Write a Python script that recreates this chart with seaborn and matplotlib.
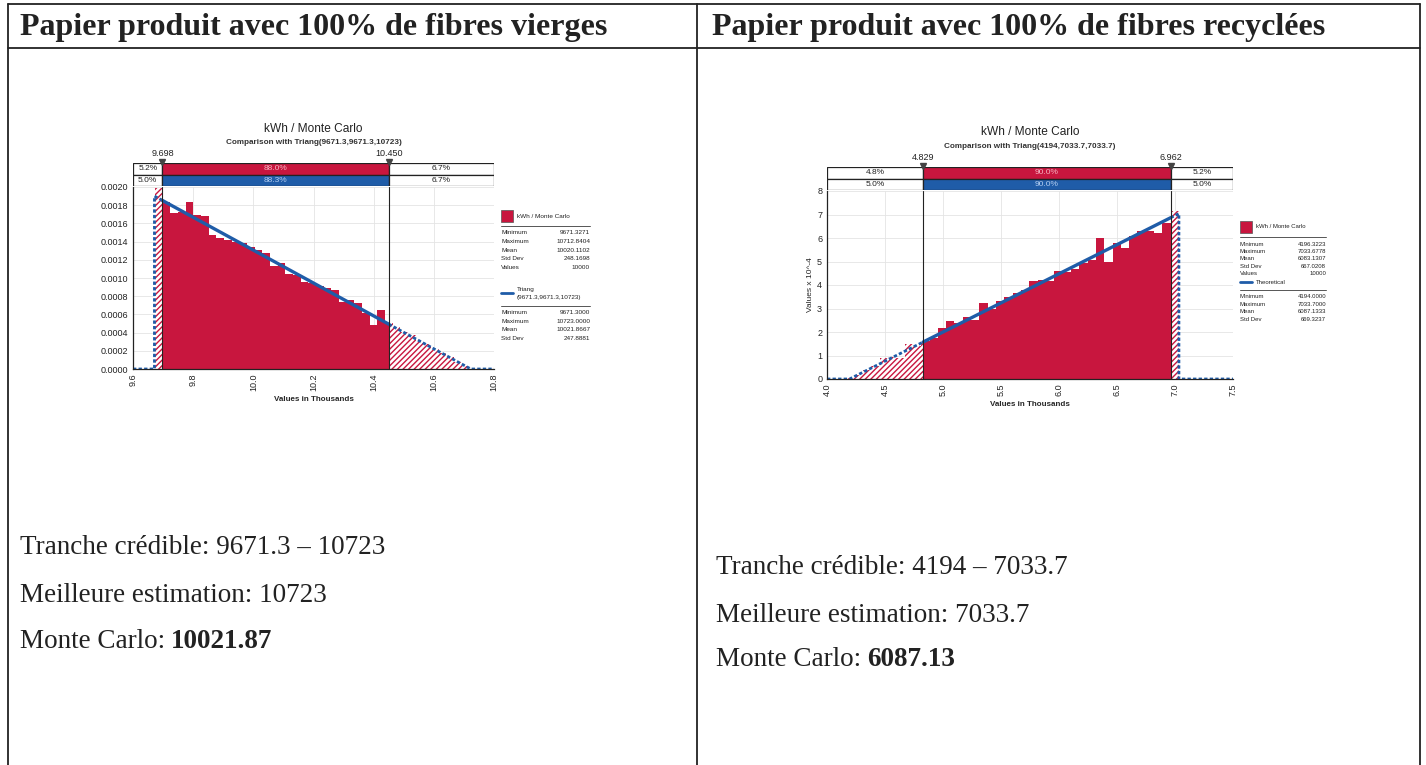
import numpy as np
import pandas as pd
import matplotlib
matplotlib.use("Agg")
import matplotlib.pyplot as plt
import seaborn as sns
from matplotlib.patches import Rectangle
from matplotlib.lines import Line2D

# ---------------- data ----------------
headers = ["Papier produit avec 100% de fibres vierges",
           "Papier produit avec 100% de fibres recyclées"]

# virgin fibres (values in thousands of kWh)
vir_edge0, vir_binw = 9.673, 0.0255
vir_density = [0.00199, 0.00183, 0.00171, 0.00173, 0.00184, 0.00169, 0.00168, 0.00147,
               0.00144, 0.00142, 0.00140, 0.00138, 0.00134, 0.00131, 0.00127, 0.00113,
               0.00116, 0.00104, 0.00103, 0.00096, 0.00094, 0.00091, 0.00089, 0.00087,
               0.00074, 0.00076, 0.00073, 0.00062, 0.00048, 0.00065, 0.00051, 0.00046,
               0.00041, 0.00037, 0.00031, 0.00027, 0.00022, 0.00018, 0.00013, 0.00008,
               0.00003]
vir_tri_x = [9.6, 9.6713, 9.6713, 10.723, 10.8]
vir_tri_y = [0, 0, 0.00190, 0, 0]
vir_delims = [9.698, 10.450]
vir_sim_pct = [5.2, 88.0, 6.7]
vir_th_pct = [5.0, 88.3, 6.7]
vir_xticks = [9.6, 9.8, 10.0, 10.2, 10.4, 10.6, 10.8]
vir_yticks = [0.0000, 0.0002, 0.0004, 0.0006, 0.0008, 0.0010, 0.0012, 0.0014, 0.0016, 0.0018, 0.0020]
vir_stats_sim = [("Minimum", "9671.3271"), ("Maximum", "10712.8404"), ("Mean", "10020.1102"),
                 ("Std Dev", "248.1698"), ("Values", "10000")]
vir_stats_th = [("Minimum", "9671.3000"), ("Maximum", "10723.0000"), ("Mean", "10021.8667"),
                ("Std Dev", "247.8881")]
vir_lines = ["Tranche crédible: 9671.3 – 10723", "Meilleure estimation: 10723"]
vir_mc = "10021.87"

# recycled fibres (values in thousands of kWh, density x 10^-4)
rec_edge0, rec_binw = 4.167, 0.0717
rec_density = [0.05, 0.18, 0.38, 0.55, 0.88, 0.92, 0.90, 1.48, 1.42, 1.60,
               1.75, 2.17, 2.46, 2.39, 2.64, 2.53, 3.24, 2.96, 3.30, 3.50,
               3.65, 3.80, 4.15, 4.20, 4.18, 4.60, 4.55, 4.70, 4.92, 5.05,
               6.00, 5.00, 5.78, 5.58, 6.10, 6.30, 6.28, 6.20, 6.65, 7.17]
rec_tri_x = [4.0, 4.194, 7.0337, 7.0337, 7.5]
rec_tri_y = [0, 0, 7.04, 0, 0]
rec_delims = [4.829, 6.962]
rec_sim_pct = [4.8, 90.0, 5.2]
rec_th_pct = [5.0, 90.0, 5.0]
rec_xticks = [4.0, 4.5, 5.0, 5.5, 6.0, 6.5, 7.0, 7.5]
rec_yticks = [0, 1, 2, 3, 4, 5, 6, 7, 8]
rec_stats_sim = [("Minimum", "4196.3223"), ("Maximum", "7033.6778"), ("Mean", "6083.1307"),
                 ("Std Dev", "667.0208"), ("Values", "10000")]
rec_stats_th = [("Minimum", "4194.0000"), ("Maximum", "7033.7000"), ("Mean", "6087.1333"),
                ("Std Dev", "669.3237")]
rec_lines = ["Tranche crédible: 4194 – 7033.7", "Meilleure estimation: 7033.7"]
rec_mc = "6087.13"

# ---------------- style ----------------
RED = "#c8163e"
BLUE = "#1f5ca8"
INK = "#222222"
sns.set_style("white")
plt.rcParams['font.family'] = ['Liberation Sans', 'DejaVu Sans']
plt.rcParams['hatch.linewidth'] = 1.0

W, H = 1426, 765
fig = plt.figure(figsize=(W / 100, H / 100), dpi=100)


def fx(px):
    return px / W


def fy(py):
    return 1 - py / H


def axes_px(x0, y0, x1, y1):
    return fig.add_axes([fx(x0), fy(y1), (x1 - x0) / W, (y1 - y0) / H])


# ---------------- table frame ----------------
tbl = dict(color=INK, lw=1.3)
fig.add_artist(Line2D([fx(8), fx(1420)], [fy(4), fy(4)], **tbl))
fig.add_artist(Line2D([fx(8), fx(1420)], [fy(48), fy(48)], **tbl))
for xx in (8, 697, 1420):
    fig.add_artist(Line2D([fx(xx), fx(xx)], [fy(4), fy(765)], **tbl))

fig.text(fx(20), fy(27), headers[0], fontfamily='Liberation Serif', fontweight='bold',
         fontsize=23, va='center', color=INK)
fig.text(fx(712), fy(27), headers[1], fontfamily='Liberation Serif', fontweight='bold',
         fontsize=23, va='center', color=INK)


def hist_bars(ax, dens, edges):
    edges = np.asarray(edges, dtype=float)
    df = pd.DataFrame({"value": (edges[:-1] + edges[1:]) / 2, "density": list(dens)})
    n0 = len(ax.patches)
    sns.histplot(data=df, x="value", weights="density", bins=list(edges), stat='count',
                 element='bars', color=RED, alpha=1, linewidth=0, ax=ax)
    return ax.patches[n0:]


def draw_chart(edge0, binw, dens, tri_x, tri_y, delims, sim_pct, th_pct, xticks, yticks,
               ytickfmt, ylabel, plot_px, box_px, title_y, sub_y, subtitle):
    x0, y0, x1, y1 = plot_px
    xmin, xmax = xticks[0], xticks[-1]
    ymax = yticks[-1]
    lo, hi = delims
    ax = axes_px(x0, y0, x1, y1)
    edges = edge0 + binw * np.arange(len(dens) + 1)

    # solid histogram inside delimiters
    clip_in = Rectangle((lo, 0), hi - lo, ymax * 2, transform=ax.transData)
    for p in hist_bars(ax, dens, edges):
        p.set_clip_path(clip_in)
    # hatched histogram outside delimiters
    for (a, b) in [(xmin, lo), (hi, xmax)]:
        clip = Rectangle((a, 0), b - a, ymax * 2, transform=ax.transData)
        for p in hist_bars(ax, dens, edges):
            p.set_facecolor('white')
            p.set_edgecolor(RED)
            p.set_hatch('//////')
            p.set_linewidth(0)
            p.set_alpha(1)
            p.set_clip_path(clip)

    # theoretical curve
    tx = np.array(tri_x, dtype=float)
    ty = np.array(tri_y, dtype=float)
    m_in = (tx > lo) & (tx < hi)
    xin = np.concatenate([[lo], tx[m_in], [hi]])
    yin = np.interp(xin, tx, ty)
    sns.lineplot(x=xin, y=yin, ax=ax, color=BLUE, linewidth=2.4, estimator=None, sort=False)
    xl = np.concatenate([tx[tx < lo], [lo]])
    yl = np.concatenate([ty[tx < lo], [np.interp(lo, tx, ty)]])
    xr = np.concatenate([[hi], tx[tx > hi]])
    yr = np.concatenate([[np.interp(hi, tx, ty)], ty[tx > hi]])
    for xs, ys in [(xl, yl), (xr, yr)]:
        sns.lineplot(x=xs, y=ys, ax=ax, color=BLUE, linewidth=2.0, estimator=None,
                     sort=False, linestyle=(0, (1.2, 0.8)))

    for d in delims:
        ax.axvline(d, color=INK, lw=0.8, zorder=5)

    ax.set_xlim(xmin, xmax)
    ax.set_ylim(0, ymax)
    ax.set_xticks(xticks)
    ax.set_xticklabels([f"{t:.1f}" for t in xticks], rotation=90, fontsize=6.5)
    ax.set_yticks(yticks)
    ax.set_yticklabels([ytickfmt.format(t) for t in yticks], fontsize=6.5)
    ax.grid(True, color='#e4e4e4', lw=0.6)
    ax.set_axisbelow(True)
    for s in ('top', 'right'):
        ax.spines[s].set_visible(False)
    for s in ('left', 'bottom'):
        ax.spines[s].set_color(INK)
        ax.spines[s].set_linewidth(0.9)
    ax.tick_params(length=2, width=0.6, pad=1.5, colors=INK)
    ax.set_xlabel("Values in Thousands", fontsize=5.8, fontweight='bold', labelpad=3)
    ax.set_ylabel(ylabel, fontsize=6, labelpad=2)

    # percentage bars above
    bx0, by0, bx1, by1 = box_px
    bx = axes_px(bx0, by0, bx1, by1)
    bx.set_xlim(xmin, xmax)
    bx.set_ylim(0, 2)
    bx.axis('off')
    segs = [(xmin, lo), (lo, hi), (hi, xmax)]
    for row, (pcts, col, tcol) in enumerate([(sim_pct, RED, '#f5b3c1'),
                                              (th_pct, BLUE, '#b3cdf0')]):
        yc = 1.5 - row
        for i, (a, b) in enumerate(segs):
            fc = col if i == 1 else 'white'
            bx.barh(yc, b - a, left=a, height=1, color=fc, edgecolor=INK, linewidth=0.9)
            bx.text((a + b) / 2, yc, f"{pcts[i]:.1f}%", ha='center', va='center',
                    fontsize=6, color=tcol if i == 1 else INK)
    for d in delims:
        bx.plot([d], [2.12], marker='v', ms=4.5, color='#444444', clip_on=False)
        bx.text(d, 2.45, f"{d:.3f}", ha='center', va='bottom', fontsize=6.5, color=INK)

    cx = (x0 + x1) / 2
    fig.text(fx(cx), fy(title_y), "kWh / Monte Carlo", ha='center', va='center',
             fontsize=8.6, color=INK)
    fig.text(fx(cx), fy(sub_y), subtitle, ha='center', va='center',
             fontsize=5.9, fontweight='bold', color='#333333')
    return ax


def draw_legend(x0, x1, y_sq, sim_stats, th_name, th_stats, row_h, y_th, fs=4.6):
    fig.add_artist(Rectangle((fx(x0), fy(y_sq + 6)), 12 / W, 12 / H, transform=fig.transFigure,
                             facecolor=RED, edgecolor='#555555', lw=0.5))
    fig.text(fx(x0 + 16), fy(y_sq), "kWh / Monte Carlo", fontsize=fs, va='center', color=INK)
    yl = y_sq + 10
    fig.add_artist(Line2D([fx(x0), fx(x1)], [fy(yl), fy(yl)], color='#555555', lw=0.7))
    for i, (k, v) in enumerate(sim_stats):
        yy = yl + 7 + i * row_h
        fig.text(fx(x0), fy(yy), k, fontsize=fs, va='center', color=INK)
        fig.text(fx(x1), fy(yy), v, fontsize=fs, va='center', ha='right', color=INK)
    names = th_name.split("\n")
    ymid = y_th + (len(names) - 1) * 4
    fig.add_artist(Line2D([fx(x0), fx(x0 + 12)], [fy(ymid), fy(ymid)], color=BLUE, lw=2))
    for j, nm in enumerate(names):
        fig.text(fx(x0 + 16), fy(y_th + j * 8.5), nm, fontsize=fs, va='center', color=INK)
    yl2 = y_th + (len(names) - 1) * 8.5 + 8
    fig.add_artist(Line2D([fx(x0), fx(x1)], [fy(yl2), fy(yl2)], color='#555555', lw=0.7))
    for i, (k, v) in enumerate(th_stats):
        yy = yl2 + 7 + i * row_h
        fig.text(fx(x0), fy(yy), k, fontsize=fs, va='center', color=INK)
        fig.text(fx(x1), fy(yy), v, fontsize=fs, va='center', ha='right', color=INK)


draw_chart(vir_edge0, vir_binw, vir_density, vir_tri_x, vir_tri_y, vir_delims,
           vir_sim_pct, vir_th_pct, vir_xticks, vir_yticks, "{:.4f}", "",
           (133, 187, 494, 369), (133, 163, 494, 186), 129, 142,
           "Comparison with Triang(9671.3,9671.3,10723)")
draw_chart(rec_edge0, rec_binw, rec_density, rec_tri_x, rec_tri_y, rec_delims,
           rec_sim_pct, rec_th_pct, rec_xticks, rec_yticks, "{:.0f}", "Values x 10^-4",
           (827, 191, 1233, 379), (827, 167, 1233, 190), 132, 146,
           "Comparison with Triang(4194,7033.7,7033.7)")

draw_legend(501, 590, 216, vir_stats_sim, "Triang\n(9671.3,9671.3,10723)", vir_stats_th,
            8.6, 289)
draw_legend(1240, 1326, 227, rec_stats_sim, "Theoretical", rec_stats_th, 7.4, 282,
            fs=4.3)

# ---------------- text below ----------------
renderer = fig.canvas.get_renderer()


def body(x_px, y_list, lines, mc_value):
    for yy, ln in zip(y_list[:2], lines):
        fig.text(fx(x_px), fy(yy), ln, fontfamily='Liberation Serif', fontsize=19.5,
                 va='center', color=INK)
    t = fig.text(fx(x_px), fy(y_list[2]), "Monte Carlo:", fontfamily='Liberation Serif',
                 fontsize=19.5, va='center', color=INK)
    bb = t.get_window_extent(renderer=renderer)
    fig.text((bb.x1 + 6) / W, fy(y_list[2]), mc_value, fontfamily='Liberation Serif',
             fontweight='bold', fontsize=19.5, va='center', color=INK)


body(20, [548, 596, 641], vir_lines, vir_mc)
body(716, [568, 615, 659], rec_lines, rec_mc)

fig.savefig("out.png", dpi=100)
